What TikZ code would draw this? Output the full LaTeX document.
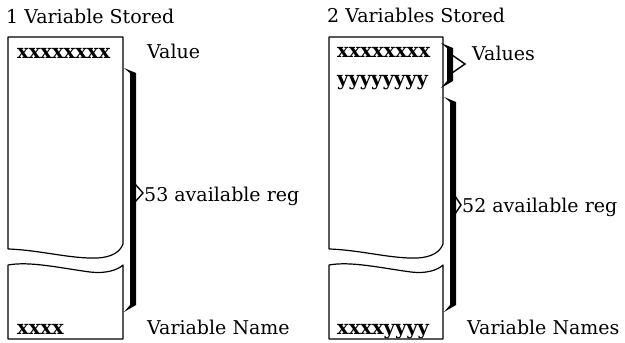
\documentclass[tikz,border=0pt]{standalone}
\usepackage{fontspec}
\setmainfont{DejaVu Serif}
\newcommand{\drawbrace}[5]{% #1 bar x, #2 top y, #3 bottom y, #4 tip y, #5 tip x
  \fill (#1-6,#2) -- (#1+6,#2+5) -- (#1+6,#3-5) -- (#1-6,#3+2) -- (#1,#3-5) -- (#1,#2+5) -- cycle;
  \draw[line width=1.4,line join=miter] (#1+5,#4-9) -- (#5,#4) -- (#1+5,#4+9);
}
\begin{document}
\begin{tikzpicture}[x=1pt,y=-1pt,
  lbl/.style={anchor=base west,inner sep=0pt,font=\fontsize{19}{21}\selectfont},
  cell/.style={anchor=base west,inner sep=0pt,font=\fontsize{19.5}{21}\selectfont\bfseries},
  boxline/.style={line width=1.2pt,line join=round}]
\useasboundingbox (0,0) rectangle (625,343);
% ---------- left panel ----------
\node[lbl] (t1) at (6,23) {1 Variable Stored};
\draw[boxline] (8,249) -- (8,37) -- (123,37) -- (123,244)
  .. controls (120,252) and (112,257) .. (98,258)
  .. controls (70,259) and (40,250) .. (8,249);
\draw[boxline] (8,265) .. controls (30,261) and (60,268) .. (90,272)
  .. controls (105,274) and (118,270) .. (123,265) -- (123,339) -- (8,339) -- cycle;
\node[cell] (v1) at (17,58) {xxxxxxxx};
\node[lbl] (val1) at (147,58) {Value};
\drawbrace{130}{68}{310}{193}{143}
\node[lbl] (r1) at (144,201) {53 available reg};
\node[cell] (n1) at (17,334) {xxxx};
\node[lbl] (vn1) at (147,334) {Variable Name};
% ---------- right panel ----------
\node[lbl] (t2) at (327,22) {2 Variables Stored};
\begin{scope}[xshift=321pt]
\draw[boxline] (8,249) -- (8,37) -- (122,37) -- (122,244)
  .. controls (119,252) and (111,257) .. (97,258)
  .. controls (70,259) and (40,250) .. (8,249);
\draw[boxline] (8,265) .. controls (30,261) and (60,268) .. (90,272)
  .. controls (105,274) and (117,270) .. (122,265) -- (122,339) -- (8,339) -- cycle;
\end{scope}
\node[cell] (v2) at (337,57) {xxxxxxxx};
\node[cell] (v3) at (337,85) {yyyyyyyy};
\drawbrace{447}{43}{86}{64}{465}
\node[lbl] (vals) at (472,60) {Values};
\drawbrace{450}{97}{310}{205}{461}
\node[lbl] (r2) at (462,212) {52 available reg};
\node[cell] (n2) at (337,334) {xxxxyyyy};
\node[lbl] (vn2) at (467,334) {Variable Names};
\end{tikzpicture}
\end{document}
